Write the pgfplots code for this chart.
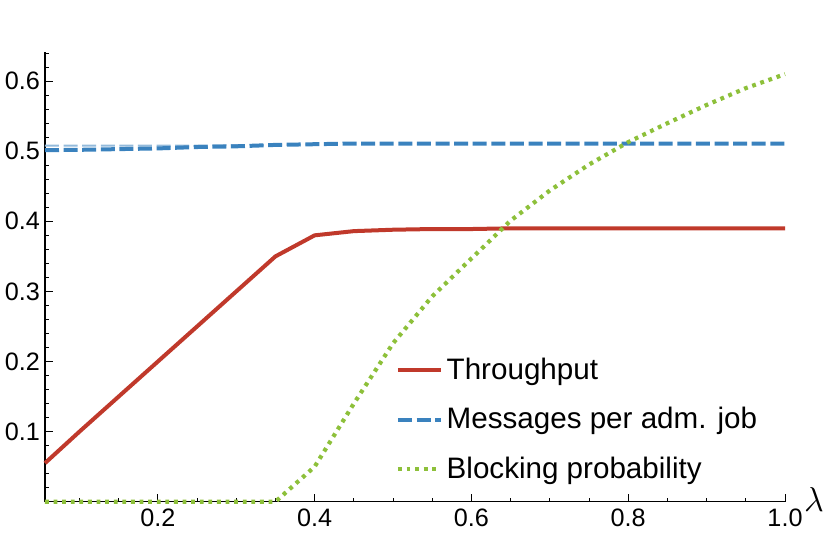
\documentclass[border=0pt]{standalone}
\usepackage{fontspec}
\setmainfont{Liberation Sans}
\usepackage{pgfplots}
\pgfplotsset{compat=1.18}
\definecolor{thrcolor}{HTML}{C0392B}
\definecolor{msgcolor}{HTML}{3A82BE}
\definecolor{blkcolor}{HTML}{8DC03A}

\begin{document}
\begin{tikzpicture}
\begin{axis}[
    scale only axis,
    width=370pt, height=225pt,
    xmin=0.056, xmax=1.0,
    ymin=0, ymax=0.642,
    axis lines*=left,
    axis line style={black, line width=0.6pt},
    tick align=inside,
    major tick length=4pt,
    minor tick length=2pt,
    tick style={black, line width=0.5pt},
    xtick={0.2,0.4,0.6,0.8,1.0},
    minor xtick={0.1,0.15,0.25,0.3,0.35,0.45,0.5,0.55,0.65,0.7,0.75,0.85,0.9,0.95},
    ytick={0.1,0.2,0.3,0.4,0.5,0.6},
    minor ytick={0.02,0.04,0.06,0.08,0.12,0.14,0.16,0.18,0.22,0.24,0.26,0.28,0.32,0.34,0.36,0.38,0.42,0.44,0.46,0.48,0.52,0.54,0.56,0.58,0.62,0.64},
    xticklabel style={/pgf/number format/.cd, fixed, fixed zerofill, precision=1},
    yticklabel style={xshift=1pt, /pgf/number format/.cd, fixed, fixed zerofill, precision=1},
    /pgf/number format/assume math mode=true,
    tick label style={font=\fontsize{12.6}{14}\selectfont},
    xlabel={$\lambda$},
    xlabel style={at={(axis description cs:1,0)}, anchor=west, font=\fontsize{17}{19}\selectfont, xshift=6pt, yshift=1pt},
    clip=false,
    legend cell align=left,
    legend image code/.code={\draw[#1] (0cm,0cm) -- (0.75cm,0cm);},
    legend style={
        at={(axis cs:0.503,0.117)}, anchor=west,
        draw=none, fill=none,
        font=\fontsize{14.8}{16}\selectfont,
        row sep=8.5pt,
        inner sep=0pt,
    },
]

% messages per admitted job, thin upper trace
\addplot[color=msgcolor!55, line width=0.9pt, dash pattern=on 7pt off 2.3pt, forget plot] coordinates {
    (0.056,0.508) (0.1,0.508) (0.15,0.508) (0.2,0.508) (0.25,0.508)
    (0.3,0.509) (0.35,0.509) (0.4,0.51)
};

\addplot[color=thrcolor, line width=2pt, line join=round] coordinates {
    (0.056,0.055) (0.1,0.1) (0.15,0.15) (0.2,0.2) (0.25,0.25) (0.3,0.3)
    (0.35,0.35) (0.4,0.38) (0.45,0.386) (0.5,0.388) (0.55,0.389) (0.6,0.389)
    (0.65,0.39) (0.7,0.39) (0.75,0.39) (0.8,0.39) (0.85,0.39) (0.9,0.39)
    (0.95,0.39) (1.0,0.39)
};
\addlegendentry{Throughput}

\addplot[color=msgcolor, line width=2pt, dash pattern=on 7pt off 2.3pt] coordinates {
    (0.056,0.5015) (0.1,0.502) (0.15,0.503) (0.2,0.504) (0.25,0.506) (0.3,0.507)
    (0.35,0.509) (0.4,0.51) (0.45,0.511) (0.5,0.511) (0.55,0.511) (0.6,0.511)
    (0.65,0.511) (0.7,0.511) (0.75,0.511) (0.8,0.511) (0.85,0.511) (0.9,0.511)
    (0.95,0.511) (1.0,0.511)
};
\addlegendentry{Messages per adm. job}

\addplot[color=blkcolor, line width=2.1pt, dash pattern=on 1.9pt off 2.4pt] coordinates {
    (0.056,0) (0.1,0) (0.15,0) (0.2,0) (0.25,0) (0.3,0) (0.35,0)
    (0.4,0.05) (0.45,0.14) (0.5,0.226) (0.55,0.293) (0.6,0.347) (0.65,0.401)
    (0.7,0.444) (0.75,0.481) (0.8,0.513) (0.85,0.54) (0.9,0.566)
    (0.95,0.59) (1.0,0.61)
};
\addlegendentry{Blocking probability}

\end{axis}
\pgfresetboundingbox
\path (-22.5pt,-23.65pt) rectangle (392.5pt,250.85pt);
\end{tikzpicture}
\end{document}
